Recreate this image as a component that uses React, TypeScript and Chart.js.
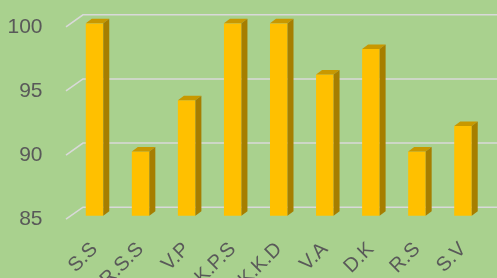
import React, { useEffect, useRef } from 'react';
import { Chart, registerables } from 'chart.js';

Chart.register(...registerables);

const categories = ['S.S', 'R.S.S', 'V.P', 'K.P.S', 'K.K.D', 'V.A', 'D.K', 'R.S', 'S.V'];
const scores = [100, 90, 94, 100, 100, 96, 98, 90, 92];
const yTicks = [85, 90, 95, 100];

const BG = '#A9D18E';
const FRONT = '#FFC000';
const TOP = '#C89800';
const SIDE = '#A67E00';
const GRID = '#D9D9D9';
const TEXT = '#595959';
const FONT = "'Liberation Sans', Arial, sans-serif";

const depthPlugin = {
  id: 'depth3d',
  beforeDatasetsDraw(chart: any) {
    const { ctx, chartArea, scales } = chart;
    const ys = scales.y;
    ctx.save();
    ctx.strokeStyle = GRID;
    ctx.lineWidth = 1.6;
    yTicks.forEach((v) => {
      const yf = ys.getPixelForValue(v);
      ctx.beginPath();
      ctx.moveTo(chartArea.left - 5.5, yf + 3.5);
      ctx.lineTo(chartArea.left + 11.5, yf - 8.5);
      ctx.lineTo(chart.width, yf - 8.5);
      ctx.stroke();
    });
    ctx.restore();
  },
  afterDatasetsDraw(chart: any) {
    const meta = chart.getDatasetMeta(0);
    const ctx = chart.ctx;
    const bottom = chart.chartArea.bottom;
    const dx = 6;
    const dy = -4.5;
    ctx.save();
    meta.data.forEach((bar: any) => {
      const { x, y, width } = bar.getProps(['x', 'y', 'width'], true);
      const l = x - width / 2;
      const r = x + width / 2;
      ctx.fillStyle = TOP;
      ctx.beginPath();
      ctx.moveTo(l, y);
      ctx.lineTo(l + dx, y + dy);
      ctx.lineTo(r + dx, y + dy);
      ctx.lineTo(r, y);
      ctx.closePath();
      ctx.fill();
      ctx.fillStyle = SIDE;
      ctx.beginPath();
      ctx.moveTo(r, y);
      ctx.lineTo(r + dx, y + dy);
      ctx.lineTo(r + dx, bottom + dy);
      ctx.lineTo(r, bottom);
      ctx.closePath();
      ctx.fill();
    });
    ctx.restore();
  },
};

export default function App() {
  const canvasRef = useRef<HTMLCanvasElement | null>(null);

  useEffect(() => {
    if (!canvasRef.current) return;
    const chart = new Chart(canvasRef.current, {
      type: 'bar',
      data: {
        labels: categories,
        datasets: [
          {
            data: scores,
            backgroundColor: FRONT,
            borderWidth: 0,
            barPercentage: 0.38,
            categoryPercentage: 1,
          },
        ],
      },
      options: {
        animation: false,
        responsive: true,
        maintainAspectRatio: false,
        layout: { padding: { top: 23.3, right: 11, left: 0, bottom: 0 } },
        plugins: { legend: { display: false }, tooltip: { enabled: false } },
        scales: {
          x: {
            grid: { display: false },
            border: { display: false },
            ticks: {
              autoSkip: false,
              minRotation: 45,
              maxRotation: 45,
              padding: 14,
              color: TEXT,
              font: { family: FONT, size: 20 },
            },
            afterFit(scale: any) {
              scale.height = 62.3;
              scale.paddingLeft = 0;
              scale.paddingRight = 0;
            },
          },
          y: {
            min: 85,
            max: 100,
            grid: { display: false },
            border: { display: false },
            ticks: {
              stepSize: 5,
              padding: 21,
              labelOffset: 3.5,
              color: TEXT,
              font: { family: FONT, size: 21 },
            },
            afterFit(scale: any) {
              scale.width = 71.5;
              scale.paddingTop = 0;
              scale.paddingBottom = 0;
            },
          },
        },
      },
      plugins: [depthPlugin],
    });
    return () => chart.destroy();
  }, []);

  return (
    <div style={{ position: 'fixed', left: 0, top: 0, width: 497, height: 278, background: BG }}>
      <canvas ref={canvasRef} />
    </div>
  );
}
